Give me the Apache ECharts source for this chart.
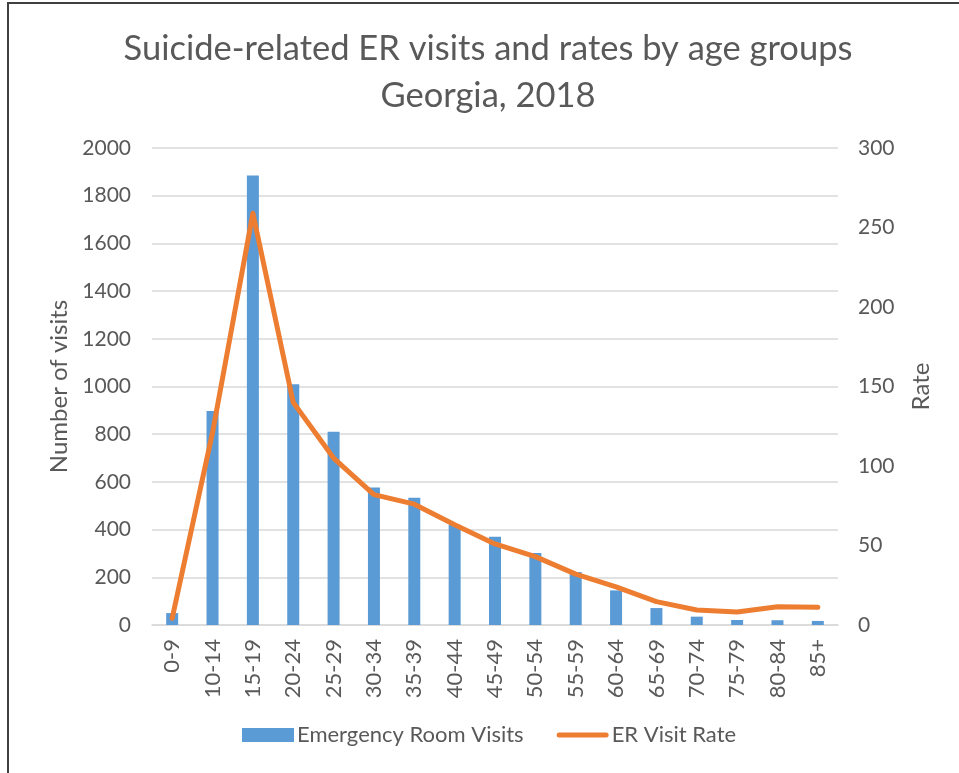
<!DOCTYPE html>
<html>
<head>
<meta charset="utf-8">
<script src="https://cdn.jsdelivr.net/npm/echarts@6/dist/echarts.min.js"></script>
<style>
html,body{margin:0;padding:0;background:#fff;}
#chart{width:959px;height:773px;}
</style>
</head>
<body>
<div id="chart"></div>
<script>
const categories = ['0-9','10-14','15-19','20-24','25-29','30-34','35-39','40-44','45-49','50-54','55-59','60-64','65-69','70-74','75-79','80-84','85+'];
const erVisits = [50, 897, 1885, 1009, 810, 576, 534, 420, 370, 302, 222, 145, 71, 35, 21, 20, 17];
const erRate = [4.2, 121, 259, 140, 105, 82, 76, 63, 51, 43, 32, 24, 14.7, 9.4, 8.2, 11.5, 11.1];
const leftTicks = {min: 0, max: 2000, interval: 200};
const rightTicks = {min: 0, max: 300, interval: 50};

const FONT = 'Lato';
const TXT = '#595959';
const chart = echarts.init(document.getElementById('chart'), null, {renderer: 'canvas'});
chart.setOption({
  animation: false,
  backgroundColor: '#fff',
  textStyle: {fontFamily: FONT, color: TXT},
  title: {
    text: 'Suicide-related ER visits and rates by age groups\nGeorgia, 2018',
    left: 483, top: 20, textAlign: 'center',
    textStyle: {fontFamily: FONT, fontSize: 34.5, fontWeight: 'normal', color: TXT, lineHeight: 47}
  },
  graphic: [{
    type: 'rect', silent: true, z: -1,
    shape: {x: 8, y: 3, width: 1000, height: 900},
    style: {fill: 'none', stroke: '#404040', lineWidth: 2}
  }],
  legend: {
    bottom: 22, left: 237, itemGap: 33, itemWidth: 52, itemHeight: 14,
    textStyle: {fontFamily: FONT, fontSize: 22, color: TXT, padding: [0, 0, 0, -2]},
    data: [
      {name: 'Emergency Room Visits', icon: 'rect'},
      {name: 'ER Visit Rate', icon: 'path://M2.5,0 L49.5,0 A2.5,2.5 0 0 1 49.5,5 L2.5,5 A2.5,2.5 0 0 1 2.5,0 Z'}
    ]
  },
  grid: {left: 152, right: 121, top: 148, bottom: 148, containLabel: false},
  xAxis: {
    type: 'category', data: categories,
    axisLine: {show: true, lineStyle: {color: '#d9d9d9', width: 1.5}},
    axisTick: {show: false},
    axisLabel: {rotate: 90, fontFamily: FONT, fontSize: 22, color: TXT, margin: 14, interval: 0}
  },
  yAxis: [{
    type: 'value', min: leftTicks.min, max: leftTicks.max, interval: leftTicks.interval,
    name: 'Number of visits', nameLocation: 'middle', nameGap: 78, nameRotate: 90,
    nameTextStyle: {fontFamily: FONT, fontSize: 24, color: TXT},
    axisLine: {show: false}, axisTick: {show: false},
    axisLabel: {fontFamily: FONT, fontSize: 21, color: TXT, margin: 21, formatter: function (v) { return String(v); }},
    splitLine: {lineStyle: {color: '#d9d9d9', width: 1.5}}
  }, {
    type: 'value', min: rightTicks.min, max: rightTicks.max, interval: rightTicks.interval,
    name: 'Rate', nameLocation: 'middle', nameGap: 71, nameRotate: 90,
    nameTextStyle: {fontFamily: FONT, fontSize: 24, color: TXT},
    axisLine: {show: false}, axisTick: {show: false},
    axisLabel: {fontFamily: FONT, fontSize: 21, color: TXT, margin: 20},
    splitLine: {show: false}
  }],
  series: [{
    name: 'Emergency Room Visits', type: 'bar', data: erVisits, barWidth: 12,
    itemStyle: {color: '#5B9BD5'}
  }, {
    name: 'ER Visit Rate', type: 'line', yAxisIndex: 1, data: erRate,
    symbol: 'none', showSymbol: false,
    lineStyle: {color: '#ED7D31', width: 5, cap: 'round', join: 'round'},
    itemStyle: {color: '#ED7D31'}
  }]
});
</script>
</body>
</html>
